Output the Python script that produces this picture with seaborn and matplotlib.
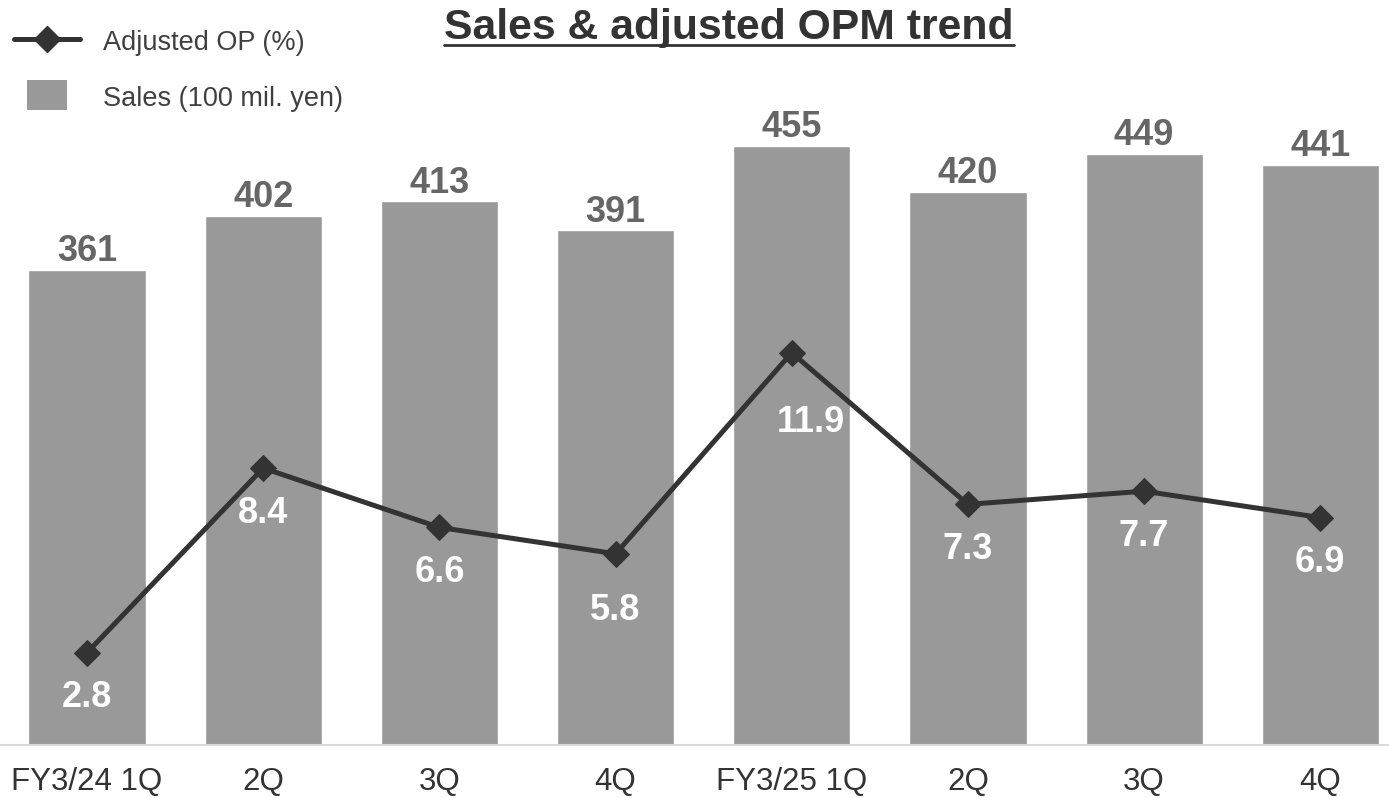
import matplotlib
matplotlib.use("Agg")
import matplotlib.pyplot as plt
import seaborn as sns
import pandas as pd
from matplotlib.lines import Line2D

sns.set_style("white")
plt.rcParams['font.family'] = ['Liberation Sans', 'DejaVu Sans']

# data
periods = ["FY3/24 1Q", "FY3/24 2Q", "FY3/24 3Q", "FY3/24 4Q",
           "FY3/25 1Q", "FY3/25 2Q", "FY3/25 3Q", "FY3/25 4Q"]
tick_labels = ["FY3/24 1Q", "2Q", "3Q", "4Q", "FY3/25 1Q", "2Q", "3Q", "4Q"]
sales = [361, 402, 413, 391, 455, 420, 449, 441]
adj_op = [2.8, 8.4, 6.6, 5.8, 11.9, 7.3, 7.7, 6.9]

df = pd.DataFrame({"period": periods, "sales": sales, "adj_op": adj_op})
df["pos"] = range(len(df))

bar_color = "#999999"
line_color = "#333333"

# manual nudges for a couple of the % labels (points)
label_nudge = {3: (0, -8), 4: (14, -18)}

fig = plt.figure(figsize=(13.89, 7.98), dpi=100)
ax = fig.add_axes([0, 53 / 798, 1, 745 / 798])

sns.barplot(data=df, x="period", y="sales", color=bar_color, saturation=1,
            width=0.665, ax=ax)
ax.set_xlim(-0.494, 7.39)
ax.set_ylim(0, 566)
ax.set_xlabel("")
ax.set_ylabel("")
ax.set_yticks([])
ax.set_xticks(range(len(tick_labels)))
ax.set_xticklabels(tick_labels, fontsize=22.5, color="#333333")
ax.tick_params(axis="x", length=0, pad=16)
for s in ["top", "left", "right"]:
    ax.spines[s].set_visible(False)
ax.spines["bottom"].set_color("#d9d9d9")
ax.spines["bottom"].set_linewidth(1.5)

for i, v in enumerate(sales):
    ax.annotate(str(v), (i, v), xytext=(0, 0.5), textcoords="offset points",
                ha="center", va="bottom", fontsize=26, fontweight="bold",
                color="#666666")

ax2 = ax.twinx()
sns.lineplot(data=df, x="pos", y="adj_op", color=line_color, linewidth=3.6,
             marker="D", markersize=13, markeredgecolor=line_color, ax=ax2)
ax2.set_ylim(0, 22.6)
ax2.set_yticks([])
ax2.set_ylabel("")
ax2.set_xlabel("")
ax2.set_xlim(ax.get_xlim())
for s in ax2.spines.values():
    s.set_visible(False)

for i, v in enumerate(adj_op):
    dx, dy = label_nudge.get(i, (0, 0))
    ax2.annotate(f"{v:.1f}", (i, v), xytext=(dx, -20 + dy),
                 textcoords="offset points", ha="center", va="top",
                 fontsize=26, fontweight="bold", color="white")

# title with underline
title = fig.text(0.525, 0.965, "Sales & adjusted OPM trend", ha="center",
                 va="center", fontsize=30.8, fontweight="bold", color="#333333")
fig.canvas.draw()
bb = title.get_window_extent().transformed(fig.transFigure.inverted())
fig.add_artist(Line2D([bb.x0, bb.x1], [bb.y0 + 0.004, bb.y0 + 0.004],
                      transform=fig.transFigure, color="#333333", linewidth=2))

rect = [(-1, -0.725), (1, -0.725), (1, 0.725), (-1, 0.725), (-1, -0.725)]
handles = [
    Line2D([0], [0], color=line_color, linewidth=3.6, marker="D",
           markersize=13, label="Adjusted OP (%)"),
    Line2D([0], [0], color=bar_color, linestyle="none", marker=rect,
           markersize=29, markeredgewidth=0, label="Sales (100 mil. yen)"),
]
fig.legend(handles=handles, loc="upper left",
           bbox_to_anchor=(0.0, 1 - 15 / 798),
           frameon=False, fontsize=19.5, handlelength=2.45, handleheight=1.0,
           labelspacing=1.05, handletextpad=0.85, labelcolor="#404040",
           borderaxespad=0.3, borderpad=0.2)

fig.savefig("out.png", dpi=100)
